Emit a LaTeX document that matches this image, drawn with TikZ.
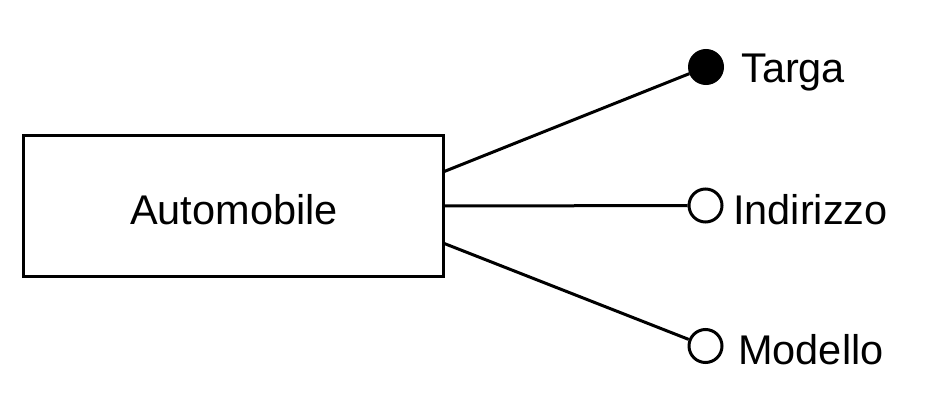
\documentclass[tikz,border=0pt]{standalone}
\usepackage{fontspec}
\setmainfont{Liberation Sans}
\begin{document}
\begin{tikzpicture}[x=1pt,y=-1pt,
  line/.style={line width=3pt},
  attr/.style={circle,draw,line width=3pt,minimum size=33pt,inner sep=0pt},
  lbl/.style={anchor=base west,inner sep=0pt,font=\fontsize{41.5pt}{48pt}\selectfont},
  entity/.style={draw,line width=3pt,minimum width=420pt,minimum height=140pt,inner sep=0pt}]
\useasboundingbox (0,0) rectangle (942,414);
\node[entity] (auto) at (233,206) {};
\node[anchor=base,inner sep=0pt,font=\fontsize{41.5pt}{48pt}\selectfont] (autol) at (234,224) {Automobile};
\node[attr,fill=black] (targa) at (706,67) {};
\node[attr,fill=white] (indir) at (705.5,205.5) {};
\node[attr,fill=white] (modello) at (705.5,346) {};
\node[lbl] (targal) at (741,83) {Targa};
\node[lbl] (indirl) at (733,225) {Indirizzo};
\node[lbl] (modellol) at (738,364) {Modello};
\coordinate (a1) at (443,172);
\coordinate (a2) at (443,206);
\coordinate (a3) at (443,243);
\draw[line] (a1) -- (targa);
\draw[line] (a2) -- (indir);
\draw[line] (a3) -- (modello);
\end{tikzpicture}
\end{document}
